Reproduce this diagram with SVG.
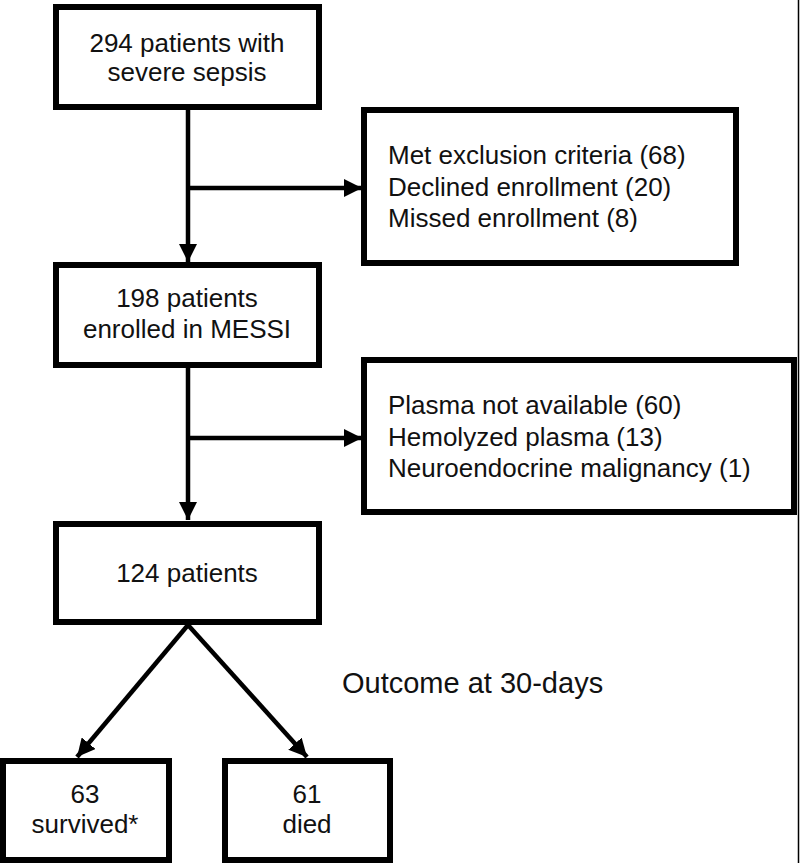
<svg xmlns="http://www.w3.org/2000/svg" width="800" height="863" viewBox="0 0 800 863">
<style>
.box{fill:#fff;stroke:#000;stroke-width:6}
.t{font-family:"Liberation Sans",Arial,sans-serif;font-size:26px;fill:#111}
.c{text-anchor:middle}
.ln{stroke:#000;stroke-width:4.5;fill:none}
</style>
<defs>
<marker id="ah" markerWidth="4" markerHeight="4" refX="4" refY="2" orient="auto" markerUnits="strokeWidth" viewBox="0 0 4 4">
<path d="M0,0 L4,2 L0,4 Z" fill="#000"/>
</marker>
</defs>
<rect width="800" height="863" fill="#fff"/>
<line x1="798.5" y1="0" x2="798.5" y2="863" stroke="#000" stroke-width="1.5"/>
<g id="connectors">
<line class="ln" x1="188" y1="107" x2="188" y2="262" marker-end="url(#ah)"/>
<line class="ln" x1="188" y1="188" x2="362" y2="188" marker-end="url(#ah)"/>
<line class="ln" x1="188" y1="365" x2="188" y2="520" marker-end="url(#ah)"/>
<line class="ln" x1="188" y1="438" x2="362" y2="438" marker-end="url(#ah)"/>
<line class="ln" x1="188" y1="625" x2="77" y2="757" marker-end="url(#ah)"/>
<line class="ln" x1="188" y1="625" x2="307" y2="757" marker-end="url(#ah)"/>
</g>
<g id="n1">
<rect class="box" x="56" y="7" width="263" height="100"/>
<text class="t c" x="187" y="52">294 patients with</text>
<text class="t c" x="187" y="81">severe sepsis</text>
</g>
<g id="x1">
<rect class="box" x="364" y="110" width="372" height="153"/>
<text class="t" x="388" y="164">Met exclusion criteria (68)</text>
<text class="t" x="388" y="196">Declined enrollment (20)</text>
<text class="t" x="388" y="227">Missed enrollment (8)</text>
</g>
<g id="n2">
<rect class="box" x="56" y="265" width="263" height="100"/>
<text class="t c" x="187" y="307">198 patients</text>
<text class="t c" x="187" y="338">enrolled in MESSI</text>
</g>
<g id="x2">
<rect class="box" x="364" y="360" width="430" height="152"/>
<text class="t" x="388" y="414">Plasma not available (60)</text>
<text class="t" x="388" y="446">Hemolyzed plasma (13)</text>
<text class="t" x="388" y="477">Neuroendocrine malignancy (1)</text>
</g>
<g id="n3">
<rect class="box" x="56" y="524" width="263" height="98"/>
<text class="t c" x="187" y="582">124 patients</text>
</g>
<g id="label">
<text class="t" x="342" y="693" style="font-size:29px">Outcome at 30-days</text>
</g>
<g id="n4">
<rect class="box" x="3" y="761" width="166" height="99"/>
<text class="t c" x="85" y="803">63</text>
<text class="t c" x="85" y="833">survived*</text>
</g>
<g id="n5">
<rect class="box" x="225" y="761" width="165" height="99"/>
<text class="t c" x="307" y="803">61</text>
<text class="t c" x="307" y="833">died</text>
</g>
</svg>
